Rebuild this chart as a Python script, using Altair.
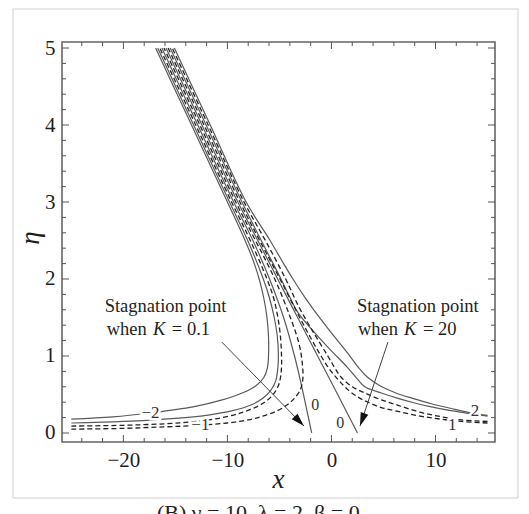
import altair as alt
import pandas as pd

X_DOMAIN = [-25.9, 15.72]
Y_DOMAIN = [-0.117, 5.078]

# ---- streamlines, K = 0.1 (solid) ----
s_m2_x = [-25, -21, -17.5, -13.3, -10.5, -8.4, -7.2, -6.5, -6.15, -6.05, -6.05, -6.2, -6.5, -6.95, -7.55, -8.3, -10.0, -13.45, -16.9]
s_m2_y = [0.18, 0.21, 0.26, 0.34, 0.43, 0.53, 0.62, 0.72, 0.85, 1.0, 1.25, 1.5, 1.75, 2.0, 2.25, 2.5, 3.0, 4.0, 5.0]
s_m1_x = [-25, -20, -15, -12, -9.5, -7.8, -6.6, -5.8, -5.35, -5.15, -5.1, -5.2, -5.5, -5.95, -6.55, -8.05, -9.8, -13.25, -16.7]
s_m1_y = [0.13, 0.15, 0.19, 0.23, 0.29, 0.36, 0.45, 0.56, 0.68, 0.85, 1.0, 1.25, 1.5, 1.75, 2.0, 2.5, 3.0, 4.0, 5.0]
s_0_x = [-1.9, -2.45, -3.0, -3.55, -4.6, -5.95, -7.55, -9.4, -12.85, -16.3]
s_0_y = [0.0, 0.35, 0.69, 1.0, 1.5, 2.0, 2.5, 3.0, 4.0, 5.0]
s_1_x = [15, 13.4, 11.5, 9.6, 8.0, 6.4, 4.8, 3.2, 2.5, 1.55, -0.1, -1.6, -3.2, -3.95, -4.85, -6.75, -8.6, -12.05, -15.5]
s_1_y = [0.22, 0.25, 0.29, 0.34, 0.39, 0.45, 0.52, 0.6, 0.7, 0.85, 1.08, 1.3, 1.56, 1.75, 2.0, 2.5, 3.0, 4.0, 5.0]
s_2_x = [15, 13.5, 11.8, 9.6, 7.8, 6.2, 4.7, 3.5, 2.6, 1.6, 0.0, -1.7, -2.75, -3.7, -4.6, -5.9, -8.2, -11.65, -15.1]
s_2_y = [0.23, 0.26, 0.31, 0.38, 0.45, 0.52, 0.61, 0.72, 0.85, 1.03, 1.3, 1.6, 1.8, 2.0, 2.2, 2.5, 3.0, 4.0, 5.0]

# ---- streamlines, K = 20 (dashed; its zero line drawn solid) ----
d_m2_x = [-25, -20, -16, -13, -10.5, -8.5, -6.9, -5.8, -5.15, -4.9, -4.8, -4.8, -4.9, -5.15, -5.55, -6.2, -7.8, -9.6, -13.05, -16.5]
d_m2_y = [0.09, 0.10, 0.12, 0.15, 0.20, 0.27, 0.36, 0.47, 0.6, 0.72, 0.85, 1.0, 1.25, 1.5, 1.75, 2.0, 2.5, 3.0, 4.0, 5.0]
d_m1_x = [-25, -20, -16, -12.7, -10, -8, -6.6, -5.2, -4.2, -3.5, -3.0, -2.75, -2.8, -3.1, -3.95, -5.45, -7.3, -9.2, -12.65, -16.1]
d_m1_y = [0.05, 0.06, 0.08, 0.10, 0.13, 0.17, 0.22, 0.29, 0.37, 0.46, 0.56, 0.7, 0.9, 1.15, 1.5, 2.0, 2.5, 3.0, 4.0, 5.0]
d_0_x = [2.5, 0.6, -1.33, -3.25, -5.17, -7.08, -9.0, -12.45, -15.9]
d_0_y = [0.0, 0.5, 1.0, 1.5, 2.0, 2.5, 3.0, 4.0, 5.0]
d_1_x = [15, 12.5, 10.5, 8.5, 6.4, 4.8, 3.5, 2.5, 1.6, 0.6, -0.3, -1.0, -1.85, -3.05, -4.95, -6.9, -8.8, -12.25, -15.7]
d_1_y = [0.13, 0.15, 0.18, 0.22, 0.28, 0.33, 0.40, 0.47, 0.56, 0.7, 0.85, 1.0, 1.2, 1.5, 2.0, 2.5, 3.0, 4.0, 5.0]
d_2_x = [15, 12.5, 10.6, 8.5, 6.4, 4.8, 3.2, 2.0, 0.9, 0.3, -0.35, -1.7, -3.1, -4.4, -6.35, -8.4, -11.85, -15.3]
d_2_y = [0.15, 0.17, 0.21, 0.27, 0.36, 0.43, 0.52, 0.6, 0.73, 0.85, 1.0, 1.3, 1.63, 2.0, 2.5, 3.0, 4.0, 5.0]

CURVES = [
    ("S-2", "solid", s_m2_x, s_m2_y), ("S-1", "solid", s_m1_x, s_m1_y),
    ("S0", "solid", s_0_x, s_0_y), ("S1", "solid", s_1_x, s_1_y),
    ("S2", "solid", s_2_x, s_2_y), ("D0", "solid", d_0_x, d_0_y),
    ("D-2", "dashed", d_m2_x, d_m2_y), ("D-1", "dashed", d_m1_x, d_m1_y),
    ("D1", "dashed", d_1_x, d_1_y), ("D2", "dashed", d_2_x, d_2_y),
]

# contour labels
lab_text = ["\u22122", "\u22121", "2", "1"]
lab_x = [-17.4, -12.6, 13.8, 11.6]
lab_y = [0.255, 0.10, 0.29, 0.10]
zero_x = [-1.55, 0.85]
zero_y = [0.36, 0.13]

# arrows
arr_x1 = [-10.53, 5.43]
arr_y1 = [1.18, 1.18]
arr_x2 = [-2.64, 2.74]
arr_y2 = [0.09, 0.09]
arr_ang = [135.7, 199.9]

# ticks
x_major = [-20, -10, 0, 10]
x_minor = [-24, -22, -18, -16, -14, -12, -8, -6, -4, -2, 2, 4, 6, 8, 12, 14]
y_major = [0, 1, 2, 3, 4, 5]
y_minor = [0.2, 0.4, 0.6, 0.8, 1.2, 1.4, 1.6, 1.8, 2.2, 2.4, 2.6, 2.8,
           3.2, 3.4, 3.6, 3.8, 4.2, 4.4, 4.6, 4.8]

W, H = 433, 400
SERIF = "Liberation Serif"
INK = "#1e1e1e"

rows = []
for name, style, xs, ys in CURVES:
    for i, (a, b) in enumerate(zip(xs, ys)):
        rows.append({"curve": name, "style": style, "i": i, "x": a, "eta": b})
df = pd.DataFrame(rows)

AXX = alt.Axis(values=x_major, ticks=False, domain=False, grid=False, labelFont=SERIF,
               labelFontSize=21, labelColor=INK, labelPadding=7, format="d")
AXY = alt.Axis(values=y_major, ticks=False, domain=False, grid=False, labelFont=SERIF,
               labelFontSize=21, labelColor=INK, labelPadding=7, format="d")
X = alt.X("x:Q", scale=alt.Scale(domain=X_DOMAIN, nice=False, zero=False), axis=AXX, title=None)
Y = alt.Y("eta:Q", scale=alt.Scale(domain=Y_DOMAIN, nice=False, zero=False), axis=AXY, title=None)

one = pd.DataFrame({"a": [0]})

border = alt.Chart(one).mark_rect(fillOpacity=0, stroke="#cfcfcf", strokeWidth=1).encode(
    x=alt.value(-49), x2=alt.value(456), y=alt.value(-33), y2=alt.value(456))

solid = alt.Chart(df[df["style"] == "solid"]).mark_line(
    color="#5a5a5a", strokeWidth=1.2, interpolate="catmull-rom").encode(
    x=X, y=Y, detail="curve:N", order="i:Q")
dashed = alt.Chart(df[df["style"] == "dashed"]).mark_line(
    color="#222222", strokeWidth=1.3, strokeDash=[5, 3], interpolate="catmull-rom").encode(
    x=X, y=Y, detail="curve:N", order="i:Q")

labs = pd.DataFrame({"x": lab_x, "eta": lab_y, "t": lab_text})
lab_halo = alt.Chart(labs).mark_text(font=SERIF, fontSize=17, stroke="white", strokeWidth=5,
                                     fill="white").encode(x=X, y=Y, text="t:N")
lab_txt = alt.Chart(labs).mark_text(font=SERIF, fontSize=17, color="#333").encode(x=X, y=Y, text="t:N")
zeros = pd.DataFrame({"x": zero_x, "eta": zero_y, "t": ["0", "0"]})
zero_txt = alt.Chart(zeros).mark_text(font=SERIF, fontSize=16, color="#333").encode(x=X, y=Y, text="t:N")

arr = pd.DataFrame({"x": arr_x1, "eta": arr_y1, "x2": arr_x2, "eta2": arr_y2})
arr_line = alt.Chart(arr).mark_rule(color="#444", strokeWidth=1).encode(
    x=X, y=Y, x2="x2:Q", y2="eta2:Q")
heads = pd.DataFrame({"x": arr_x2, "eta": arr_y2, "ang": arr_ang})
arr_head = alt.Chart(heads).mark_point(shape="M0,0L-0.3,1L0.3,1Z", filled=True, size=720,
                                       color="#111", opacity=1).encode(
    x=X, y=Y, angle=alt.Angle("ang:Q", scale=None))

def txt(xv, yv, s, style="normal"):
    d = pd.DataFrame({"x": [xv], "eta": [yv], "t": [s]})
    return alt.Chart(d).mark_text(font=SERIF, fontSize=18.5, color=INK, align="left",
                                  baseline="alphabetic", fontStyle=style).encode(x=X, y=Y, text="t:N")

ann = [
    txt(-21.8, 1.575, "Stagnation point"),
    txt(-21.6, 1.27, "when"), txt(-17.16, 1.27, "K", "italic"), txt(-15.34, 1.27, "= 0.1"),
    txt(2.45, 1.575, "Stagnation point"),
    txt(2.55, 1.27, "when"), txt(6.97, 1.27, "K", "italic"), txt(8.8, 1.27, "= 20"),
]

# ticks drawn inward on all four sides
xt = pd.DataFrame({"x": x_major + x_minor, "L": [7] * len(x_major) + [4] * len(x_minor)})
yt = pd.DataFrame({"eta": y_major + y_minor, "L": [7] * len(y_major) + [4] * len(y_minor)})
tick_layers = []
for L in (7, 4):
    xs = xt[xt["L"] == L]
    ys = yt[yt["L"] == L]
    tick_layers += [
        alt.Chart(xs).mark_rule(color="#555", strokeWidth=1).encode(x=X, y=alt.value(H), y2=alt.value(H - L)),
        alt.Chart(xs).mark_rule(color="#555", strokeWidth=1).encode(x=X, y=alt.value(0), y2=alt.value(L)),
        alt.Chart(ys).mark_rule(color="#555", strokeWidth=1).encode(y=Y, x=alt.value(0), x2=alt.value(L)),
        alt.Chart(ys).mark_rule(color="#555", strokeWidth=1).encode(y=Y, x=alt.value(W), x2=alt.value(W - L)),
    ]

xtitle = alt.Chart(one).mark_text(font=SERIF, fontSize=27, fontStyle="italic", color=INK,
                                  align="center", baseline="alphabetic").encode(
    x=alt.value(216.5), y=alt.value(446), text=alt.value("x"))
ytitle = alt.Chart(one).mark_text(font=SERIF, fontSize=27, fontStyle="italic", color=INK,
                                  align="center", baseline="middle", angle=270).encode(
    x=alt.value(-31), y=alt.value(196), text=alt.value("\u03b7"))
caption = alt.Chart(one).mark_text(font=SERIF, fontSize=22, color=INK, align="left",
                                   baseline="alphabetic").encode(
    x=alt.value(95), y=alt.value(478), text=alt.value("(B) \u03b3 = 10, \u03bb = 2, \u03b2 = 0"))

chart = alt.layer(
    border, *tick_layers, solid, dashed, arr_line, arr_head, lab_halo, lab_txt, zero_txt,
    *ann, xtitle, ytitle, caption
).properties(
    width=W, height=H,
    autosize=alt.AutoSizeParams(type="none"),
    padding={"left": 62, "top": 42, "right": 34, "bottom": 72},
).configure_view(stroke="#666", strokeWidth=1.6)

chart.save("out.html", embed_options={"renderer": "svg", "actions": False})
